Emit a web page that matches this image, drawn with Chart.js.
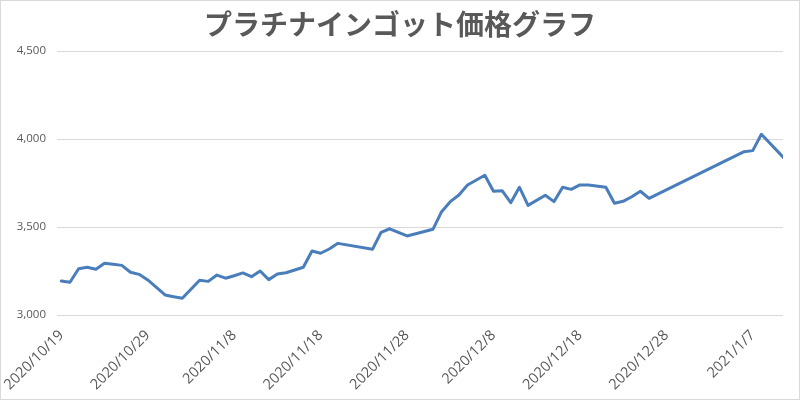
<!DOCTYPE html>
<html><head><meta charset="utf-8">
<script src="https://cdn.jsdelivr.net/npm/chart.js@4"></script>
<style>html,body{margin:0;padding:0;background:#fff}canvas{display:block}</style>
</head><body>
<canvas id="c" width="800" height="400"></canvas>
<script>
const chartTitle = 'プラチナインゴット価格グラフ';
const dates = [
  '2020/10/19','2020/10/20','2020/10/21','2020/10/22','2020/10/23','2020/10/24','2020/10/25','2020/10/26','2020/10/27','2020/10/28','2020/10/29',
  '2020/10/31','2020/11/1','2020/11/2','2020/11/4','2020/11/5','2020/11/6','2020/11/7','2020/11/8','2020/11/9','2020/11/10','2020/11/11','2020/11/12','2020/11/13','2020/11/14',
  '2020/11/16','2020/11/17','2020/11/18','2020/11/19','2020/11/20','2020/11/24','2020/11/25','2020/11/26','2020/11/28',
  '2020/12/1','2020/12/2','2020/12/3','2020/12/4','2020/12/5','2020/12/7','2020/12/8','2020/12/9','2020/12/10','2020/12/11','2020/12/12',
  '2020/12/14','2020/12/15','2020/12/16','2020/12/17','2020/12/18','2020/12/19','2020/12/21','2020/12/22','2020/12/23','2020/12/24','2020/12/25','2020/12/26',
  '2021/1/6','2021/1/7','2021/1/8','2021/1/11'
];
const prices = [
  3193,3186,3263,3271,3260,3294,3288,3282,3243,3231,3199,
  3114,3104,3095,3197,3191,3227,3209,3223,3239,3218,3250,3201,3233,3240,
  3271,3364,3351,3375,3407,3373,3470,3490,3449,
  3487,3587,3644,3682,3739,3794,3703,3706,3638,3726,3623,
  3680,3644,3726,3714,3739,3739,3726,3635,3646,3672,3703,3663,
  3928,3934,4027,3872
];
const tickLabels = ['2020/10/19','2020/10/29','2020/11/8','2020/11/18','2020/11/28','2020/12/8','2020/12/18','2020/12/28','2021/1/7'];
const axisStart = '2020/10/19';
const axisEnd = '2021/1/10';
const yMin = 3000, yMax = 4500, yStep = 500;

function dayNum(s){ const [y,m,d] = s.split('/').map(Number); return Date.UTC(y, m-1, d) / 86400000; }
const base = dayNum(axisStart);
const points = dates.map((d, i) => ({ x: dayNum(d) - base, y: prices[i] }));
const tickDays = tickLabels.map(s => dayNum(s) - base);

const frame = {
  id: 'frame',
  beforeDraw(chart){ const c = chart.ctx; c.save(); c.fillStyle = '#fff'; c.fillRect(0,0,chart.width,chart.height); c.restore(); },
  afterDraw(chart){ const c = chart.ctx; c.save(); c.strokeStyle = '#d9d9d9'; c.lineWidth = 1; c.strokeRect(0.5,0.5,chart.width-1,chart.height-1); c.restore(); }
};

new Chart(document.getElementById('c'), {
  type: 'line',
  data: { datasets: [{
    data: points,
    borderColor: '#4a7ebb',
    borderWidth: 3,
    pointRadius: 0,
    tension: 0,
    borderJoinStyle: 'round',
    borderCapStyle: 'round',
    clip: 0
  }]},
  options: {
    responsive: false,
    animation: false,
    devicePixelRatio: 1,
    layout: { padding: { left: 17, right: 17, top: 0, bottom: 0 } },
    plugins: {
      legend: { display: false },
      tooltip: { enabled: false },
      title: {
        display: true, text: chartTitle, color: '#595959',
        font: { family: '"Noto Sans CJK JP", sans-serif', size: 28, weight: 'bold', lineHeight: 1.2 },
        padding: { top: 8, bottom: 9.4 }
      }
    },
    scales: {
      x: {
        type: 'linear',
        min: -0.5,
        max: dayNum(axisEnd) - base + 0.5,
        afterBuildTicks(axis){ axis.ticks = tickDays.map(v => ({ value: v })); },
        afterFit(axis){ axis.height = 85; axis.paddingLeft = 0; axis.paddingRight = 0; },
        grid: { display: false, drawTicks: false },
        border: { display: false },
        ticks: {
          autoSkip: false, minRotation: 45, maxRotation: 45, padding: 18,
          color: '#595959',
          font: { family: '"Open Sans", sans-serif', size: 14.5, lineHeight: 0 },
          callback(v){ const i = tickDays.indexOf(v); return i >= 0 ? tickLabels[i] : ''; }
        }
      },
      y: {
        min: yMin, max: yMax,
        afterFit(axis){ axis.width = 40; },
        grid: { color: '#d9d9d9', lineWidth: 1, drawTicks: false },
        border: { display: false },
        ticks: {
          stepSize: yStep, padding: 11, color: '#595959',
          font: { family: '"Open Sans", sans-serif', size: 11.5 },
          callback(v){ return v.toLocaleString('en-US'); }
        }
      }
    }
  },
  plugins: [frame]
});
</script>
</body></html>
